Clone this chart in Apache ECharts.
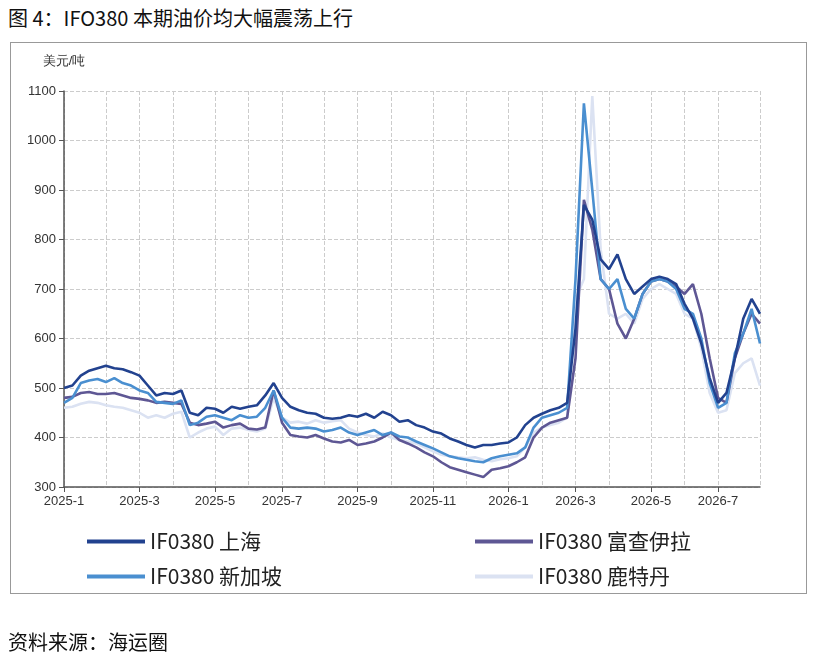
<!DOCTYPE html>
<html>
<head>
<meta charset="utf-8">
<script src="https://cdn.jsdelivr.net/npm/echarts@6/dist/echarts.min.js"></script>
<style>
body{margin:0;background:#fff;font-family:"Noto Sans CJK SC",sans-serif}
#title{position:absolute;left:8px;top:3px;font-size:20px;color:#111}
#box{position:absolute;left:10px;top:42px;width:795px;height:550px;border:1px solid #999}
#main{position:absolute;left:0;top:0;width:815px;height:662px}
#src{position:absolute;left:8px;top:627px;font-size:20px;color:#111}
</style>
</head>
<body>
<div id="title">图 4：IFO380 本期油价均大幅震荡上行</div>
<div id="box"></div>
<div id="main"></div>
<div id="src">资料来源：海运圈</div>
<script>
// weekly points, 2025-01-01 onwards
var shanghai = [500,505,525,535,540, 545,540,538,532, 525,505,485,490, 488,495,450,445,
  460,458,450,462,458, 462,465,485,510, 480,462,455,450,448, 440,438,440,445,
  442,448,440,452, 445,432,435,425,420, 412,408,398,392, 385,380,385,385,388,
  390,400,425,440, 448,455,460,470, 620,870,840,760, 740,770,720,690,
  705,720,725,720,710, 670,640,590,520, 470,490,560,640,680, 650]
var fujairah = [480,482,490,492,488, 488,490,485,480, 478,475,470,472, 470,468,430,425,
  428,432,420,425,428, 418,416,420,495, 430,405,402,400,405, 398,392,390,395,
  385,388,392,400, 410,395,388,380,370, 362,350,340,335, 330,325,320,335,338,
  342,350,360,400, 420,430,435,440, 560,880,820,720, 700,630,600,640,
  690,715,720,715,705, 690,710,650,560, 480,470,560,610,650, 630]
var singapore = [470,480,510,515,518, 512,520,510,505, 495,490,472,470, 468,475,425,430,
  442,445,440,435,445, 440,442,460,495, 440,420,418,420,418, 412,415,420,410,
  405,410,415,405, 410,402,400,392,385, 378,370,362,358, 355,352,350,358,362,
  365,368,380,420, 440,445,450,460, 720,1075,900,720, 700,720,660,640,
  690,715,720,715,700, 660,650,600,510, 460,470,570,610,660, 590]
var rotterdam = [460,462,468,472,470, 465,462,460,455, 450,440,445,440, 448,452,400,410,
  418,422,405,418,420, 415,412,418,480, 440,430,432,428,435, 430,433,435,418,
  410,405,402,408, 400,395,392,388,380, 372,365,362,360, 358,360,355,352,356,
  358,362,380,410, 420,425,430,440, 680,720,1090,780, 650,640,650,630,
  680,700,710,700,690, 650,640,580,490, 450,455,530,550,560, 505]
var names = ['IF0380 上海','IF0380 富查伊拉','IF0380 新加坡','IF0380 鹿特丹']
var colors = ['#22428f','#5e5794','#4a8fd0','#dbe2f2']

var dates = []
var start = new Date(2025,0,1)
for (var i=0;i<shanghai.length;i++){
  var d = new Date(start.getTime()+i*7*86400000)
  dates.push(d.getFullYear()+'-'+(d.getMonth()+1)+'-'+d.getDate())
}
function firstOfMonth(idx){
  if(idx==0) return true
  var a = dates[idx].split('-'), b = dates[idx-1].split('-')
  return a[1]!=b[1]
}
function labelShow(idx){
  return firstOfMonth(idx) && (+dates[idx].split('-')[1])%2==1
}

var chart = echarts.init(document.getElementById('main'))
var series = [shanghai,fujairah,singapore,rotterdam].map(function(s,k){
  return {name:names[k],type:'line',data:s,symbol:'none',
    lineStyle:{width:2.6,color:colors[k]},itemStyle:{color:colors[k]},z:[5,3,4,2][k]}
})
var legendBase = {orient:'vertical',itemWidth:58,itemHeight:4,itemGap:14,icon:'rect',
  textStyle:{fontSize:21,color:'#222',fontFamily:'Noto Sans CJK SC'}}
chart.setOption({
  animation:false,
  grid:{left:64,top:91,right:55,bottom:175},
  legend:[
    Object.assign({left:82,top:526,data:[names[0],names[2]]},legendBase),
    Object.assign({left:470,top:526,data:[names[1],names[3]]},legendBase)
  ],
  xAxis:{type:'category',data:dates,boundaryGap:false,
    axisLine:{lineStyle:{color:'#555',width:1.5}},
    axisTick:{show:true,interval:function(i){return labelShow(i)},length:5,lineStyle:{color:'#555'}},
    axisLabel:{interval:function(i){return labelShow(i)},fontSize:13,color:'#333',
      formatter:function(v){var a=v.split('-');return a[0]+'-'+a[1]}},
    splitLine:{show:true,interval:function(i){return firstOfMonth(i)},lineStyle:{type:'dashed',color:'#ccc'}}
  },
  yAxis:{type:'value',min:300,max:1100,interval:100,name:'美元/吨',
    nameTextStyle:{fontSize:13,color:'#333',padding:[0,0,8,0]},
    axisLine:{show:true,lineStyle:{color:'#555',width:1.5}},
    axisTick:{show:true,length:5,lineStyle:{color:'#555'}},
    axisLabel:{fontSize:13,color:'#333',formatter:function(v){return String(v)}},
    splitLine:{lineStyle:{type:'dashed',color:'#ccc'}}
  },
  series:series
})
</script>
</body>
</html>
